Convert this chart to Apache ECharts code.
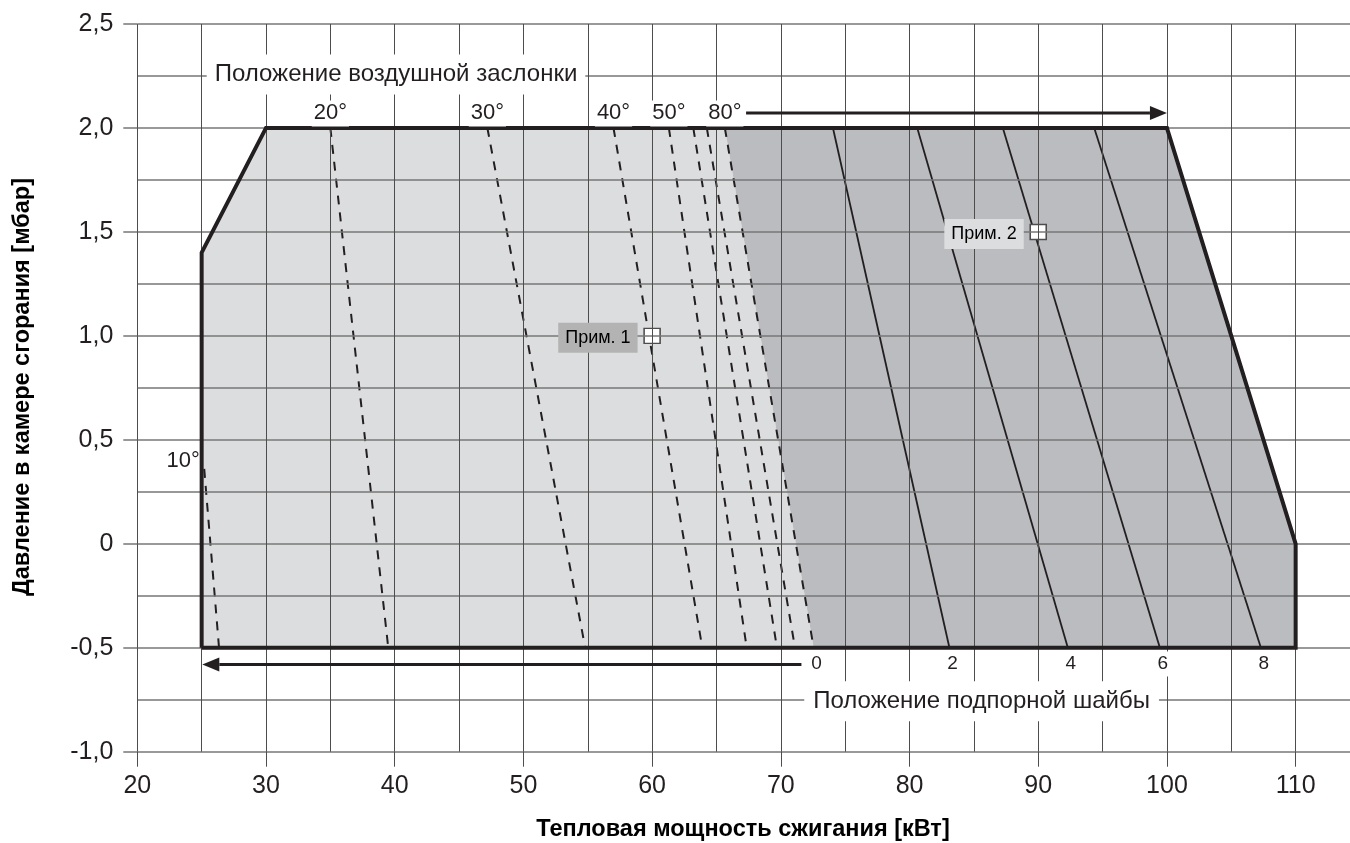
<!DOCTYPE html>
<html>
<head>
<meta charset="utf-8">
<script src="https://cdn.jsdelivr.net/npm/echarts@6/dist/echarts.min.js"></script>
<style>
  html, body { margin: 0; background: #fff; }
  #chart { width: 1350px; height: 843px; }
</style>
</head>
<body>
<div id="chart"></div>
<script>
// working range outline (kW, mbar)
const outlineX = [25, 25, 30, 100, 110, 110, 25];
const outlineY = [-0.5, 1.4, 2.0, 2.0, 0, -0.5, -0.5];

// air damper positions (dashed lines)
const damperAngles = ['10°', '20°', '30°', '40°', '50°', '', '', '80°'];
const damperTopX = [25.2, 35.0, 47.2, 57.0, 61.3, 63.2, 64.25, 65.65];
const damperTopY = [0.36, 2.0, 2.0, 2.0, 2.0, 2.0, 2.0, 2.0];
const damperBottomX = [26.35, 39.5, 54.8, 63.9, 67.35, 69.7, 71.1, 72.55];
const damperBottomY = [-0.5, -0.5, -0.5, -0.5, -0.5, -0.5, -0.5, -0.5];

// stagnation disc positions (solid lines), position 0 is the 80° damper line
const discPositions = ['0', '2', '4', '6', '8'];
const discTopX = [65.65, 74.05, 80.6, 87.25, 94.35];
const discBottomX = [72.55, 83.1, 92.3, 99.45, 107.3];

// arrows: [x from, y from, x to, y to]
const arrowDamper = [67.3, 2.072, 100, 2.072];
const arrowDisc = [71.6, -0.58, 25.05, -0.58];

// examples
const noteNames = ['Прим. 1', 'Прим. 2'];
const noteX = [60, 90];
const noteY = [1.0, 1.5];

const titleDamper = 'Положение воздушной заслонки';
const titleDisc = 'Положение подпорной шайбы';
const xName = 'Тепловая мощность сжигания [кВт]';
const yName = 'Давление в камере сгорания [мбар]';

const FONT = '"Liberation Sans", Arial, Helvetica, sans-serif';
const INK = '#231f20';

const chart = echarts.init(document.getElementById('chart'));

// light zone = left of the 80° / disc 0 line, dark zone = the rest
const lightX = [25, 25, 30, damperTopX[7], damperBottomX[7]];
const lightY = [-0.5, 1.4, 2.0, 2.0, -0.5];
const darkX = [damperTopX[7], 100, 110, 110, damperBottomX[7]];
const darkY = [2.0, 2.0, 0, -0.5, -0.5];

const polygon = (xs, ys, color) => ({
    type: 'custom',
    z: 1,
    silent: true,
    data: [[xs[0], ys[0]]],
    renderItem: (params, api) => ({
        type: 'polygon',
        shape: {points: xs.map((x, i) => api.coord([x, ys[i]]))},
        style: {fill: color}
    })
});

const segment = (x1, y1, x2, y2, style) => ({
    type: 'line',
    z: 2,
    silent: true,
    symbol: 'none',
    data: [[x1, y1], [x2, y2]],
    lineStyle: style
});

const texts = [];
// air damper labels
damperAngles.forEach((t, i) => {
    if (!t) return;
    if (i === 0) {
        texts.push({x: damperTopX[i], y: damperTopY[i], dx: -21, dy: -8, text: t, size: 22, pad: [0, 0], bg: null});
    } else {
        texts.push({x: damperTopX[i], y: 2.07, dx: 0, dy: 0, text: t, size: 22, pad: [2, 2], bg: '#fff'});
    }
});
// disc labels
discPositions.forEach((t, i) => {
    texts.push({x: discBottomX[i], y: -0.578, dx: 3, dy: 0, text: t, size: 19, pad: [3, 4], bg: '#fff'});
});
texts.push({x: 40.1, y: 2.257, dx: 0, dy: 0, text: titleDamper, size: 24, pad: [8, 8], bg: '#fff'});
texts.push({x: 85.6, y: -0.757, dx: 0, dy: 0, text: titleDisc, size: 24, pad: [8, 9], bg: '#fff'});

const noteBg = ['#b3b3b3', '#dcdddf'];

const option = {
    animation: false,
    backgroundColor: '#fff',
    grid: {left: 137.3, right: -10, top: 24, bottom: 91.3, outerBoundsMode: 'none', containLabel: false},
    xAxis: [
        {
            type: 'value', min: 20, max: 115, interval: 5, z: 3,
            axisLine: {show: false}, axisTick: {show: false}, axisLabel: {show: false},
            splitLine: {show: true, lineStyle: {color: '#4d4d4d', width: 1}}
        },
        {
            type: 'value', min: 20, max: 115, interval: 10, z: 3, position: 'bottom',
            axisLine: {show: false},
            axisTick: {show: true, length: 15, lineStyle: {color: '#4d4d4d', width: 1}},
            axisLabel: {
                margin: 22, fontSize: 25, color: INK, fontFamily: FONT,
                formatter: v => (v <= 110 ? String(v) : '')
            },
            splitLine: {show: false}
        }
    ],
    yAxis: {
        type: 'value', min: -1, max: 2.5, interval: 0.5, z: 3,
        axisLine: {show: false},
        axisTick: {show: true, length: 14, lineStyle: {color: '#777', width: 1.5}},
        minorTick: {show: false, splitNumber: 2},
        axisLabel: {
            margin: 24, fontSize: 25, color: INK, fontFamily: FONT,
            formatter: v => (v === 0 ? '0' : v.toFixed(1).replace('.', ','))
        },
        splitLine: {show: true, lineStyle: {color: '#777', width: 1.5}},
        minorSplitLine: {show: true, lineStyle: {color: '#777', width: 1.5}}
    },
    graphic: [
        {
            type: 'text', x: 743, y: 830, z: 10,
            style: {text: xName, font: 'bold 23.5px ' + FONT, fill: '#000', align: 'center', verticalAlign: 'middle'}
        },
        {
            type: 'text', x: 23, y: 387, rotation: Math.PI / 2, z: 10,
            style: {text: yName, font: 'bold 23.5px ' + FONT, fill: '#000', align: 'center', verticalAlign: 'middle'}
        }
    ],
    series: [
        polygon(lightX, lightY, '#dcdddf'),
        polygon(darkX, darkY, '#bbbcc0'),
        ...damperTopX.map((x, i) => segment(x, damperTopY[i], damperBottomX[i], damperBottomY[i],
            {color: INK, width: 2, type: [9, 8]})),
        ...discTopX.slice(1).map((x, i) => segment(x, 2.0, discBottomX[i + 1], -0.5,
            {color: INK, width: 1.8, type: 'solid'})),
        {
            type: 'scatter', z: 2, silent: true,
            symbol: 'rect', symbolSize: [16, 15],
            itemStyle: {color: '#fff', borderColor: '#4d4d4d', borderWidth: 1.5, opacity: 1},
            data: noteX.map((x, i) => [x, noteY[i]])
        },
        {
            type: 'line', z: 5, silent: true, symbol: 'none',
            data: outlineX.map((x, i) => [x, outlineY[i]]),
            lineStyle: {color: INK, width: 4, join: 'miter'}
        },
        {
            type: 'custom', z: 6, silent: true,
            data: [arrowDamper, arrowDisc].map(a => [a[0], a[1]]),
            renderItem: (params, api) => {
                const a = [arrowDamper, arrowDisc][params.dataIndex];
                const s = api.coord([a[0], a[1]]);
                const t = api.coord([a[2], a[3]]);
                const dir = Math.sign(t[0] - s[0]);
                const head = 17, half = 7;
                return {
                    type: 'group',
                    children: [
                        {type: 'line', shape: {x1: s[0], y1: s[1], x2: t[0] - dir * head, y2: t[1]},
                            style: {stroke: INK, lineWidth: 3}},
                        {type: 'polygon', shape: {points: [[t[0], t[1]], [t[0] - dir * head, t[1] - half], [t[0] - dir * head, t[1] + half]]},
                            style: {fill: INK}}
                    ]
                };
            }
        },
        {
            type: 'custom', z: 6, silent: true,
            data: texts.map(t => [t.x, t.y]),
            renderItem: (params, api) => {
                const t = texts[params.dataIndex];
                const p = api.coord([t.x, t.y]);
                return {
                    type: 'text', x: p[0] + t.dx, y: p[1] + t.dy,
                    style: {
                        text: t.text, font: t.size + 'px ' + FONT, fill: INK,
                        align: 'center', verticalAlign: 'middle',
                        backgroundColor: t.bg || 'transparent', padding: t.pad
                    }
                };
            }
        },
        {
            type: 'custom', z: 6, silent: true,
            data: noteX.map((x, i) => [x, noteY[i]]),
            renderItem: (params, api) => {
                const i = params.dataIndex;
                const p = api.coord([noteX[i], noteY[i]]);
                return {
                    type: 'text', x: p[0] - 14.5, y: p[1] + 2,
                    style: {
                        text: noteNames[i], font: '18px ' + FONT, fill: '#000',
                        align: 'right', verticalAlign: 'middle',
                        backgroundColor: noteBg[i], padding: [6, 7]
                    }
                };
            }
        }
    ]
};

chart.setOption(option);
</script>
</body>
</html>
